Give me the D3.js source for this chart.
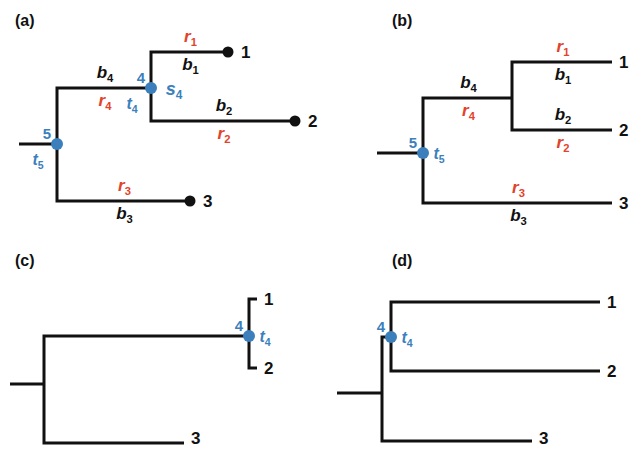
<!DOCTYPE html>
<html>
<head>
<meta charset="utf-8">
<script src="https://cdn.jsdelivr.net/npm/d3@7"></script>
<style>
  body { margin: 0; background: #fff; }
  text { font-family: "Liberation Sans", Arial, sans-serif; font-weight: bold; }
</style>
</head>
<body>
<div id="wrapper"></div>
<script>
// tree nodes: [id, parent, depth (x), row (y)] in each panel's own units
const nodesA = [["r", null, 19, 144], ["5", "r", 57, 144], ["4", "5", 151, 88],
                ["1", "4", 228, 52], ["2", "4", 295, 121], ["3", "5", 190, 201]];
const nodesB = [["r", null, 57, 153], ["5", "r", 103, 153], ["4", "5", 192, 98],
                ["1", "4", 292, 62], ["2", "4", 292, 130], ["3", "5", 292, 203]];
const nodesC = [["r", null, 10, 144], ["5", "r", 44, 144], ["4", "5", 249, 96],
                ["1", "4", 257, 59], ["2", "4", 257, 128], ["3", "5", 184, 203]];
const nodesD = [["r", null, 17, 153], ["5", "r", 62, 153], ["4", "5", 71, 97],
                ["1", "4", 280, 62], ["2", "4", 280, 131], ["3", "5", 212, 201]];

// branch labels: [child node, label above, label below]
const branchA = [["1", "r", "b"], ["4", "b", "r"], ["2", "b", "r"], ["3", "r", "b"]];
const branchB = [["1", "r", "b"], ["4", "b", "r"], ["2", "b", "r"], ["3", "r", "b"]];

// node annotations: [node, number shown, time label side, show s label]
const markA = [["5", "5", "below", false], ["4", "4", "below", true]];
const markB = [["5", "5", "right", false]];
const markC = [["4", "4", "right", false]];
const markD = [["4", "4", "right", false]];

const panels = [
  { name: "(a)", nodes: nodesA, branches: branchA, marks: markA, dots: true, ox: 0, oy: 0 },
  { name: "(b)", nodes: nodesB, branches: branchB, marks: markB, dots: false, ox: 320, oy: 0 },
  { name: "(c)", nodes: nodesC, branches: [], marks: markC, dots: false, ox: 0, oy: 240 },
  { name: "(d)", nodes: nodesD, branches: [], marks: markD, dots: false, ox: 320, oy: 240 }
];

const red = "#e2432b";
const blue = "#3b7fbd";
const ink = "#111";

const svg = d3.select("#wrapper").append("svg")
  .attr("width", 630).attr("height", 449);

function subLabel(g, x, y, letter, sub, color, size) {
  let t = g.append("text")
    .attr("x", x).attr("y", y)
    .attr("text-anchor", "middle")
    .attr("font-size", size)
    .attr("font-style", "italic")
    .attr("fill", color);
  t.append("tspan").text(letter);
  t.append("tspan").attr("dy", 4).attr("font-size", size * 0.66)
    .attr("font-style", "normal").text(sub);
}

panels.forEach(p => {
  let g = svg.append("g");
  let x = d3.scaleLinear().domain([0, 310]).range([p.ox, p.ox + 310]);
  let y = d3.scaleLinear().domain([0, 240]).range([p.oy, p.oy + 240]);

  g.append("text")
    .attr("x", p.ox + 15 + (p.ox ? 57 : 0)).attr("y", p.oy + 26)
    .attr("font-size", 16).attr("fill", ink)
    .text(p.name);

  let byId = {};
  p.nodes.forEach(d => byId[d[0]] = { id: d[0], parent: d[1], x: x(d[2]), y: y(d[3]) });
  let list = Object.values(byId);

  // elbow branches
  g.selectAll("path.branch")
    .data(list.filter(d => d.parent))
    .enter().append("path")
    .attr("class", "branch")
    .attr("d", d => {
      let par = byId[d.parent];
      return `M${par.x},${par.y}V${d.y}H${d.x}`;
    })
    .attr("fill", "none")
    .attr("stroke", ink)
    .attr("stroke-width", 3)
    .attr("stroke-linejoin", "miter");

  let leaves = list.filter(d => ["1", "2", "3"].includes(d.id));

  if (p.dots) {
    g.selectAll("circle.leaf")
      .data(leaves).enter().append("circle")
      .attr("cx", d => d.x).attr("cy", d => d.y).attr("r", 5.5)
      .attr("fill", ink);
  }

  g.selectAll("text.leaf")
    .data(leaves).enter().append("text")
    .attr("x", d => d.x + (p.dots ? 13 : 7))
    .attr("y", d => Math.min(d.y + 6, 444))
    .attr("font-size", 17).attr("fill", ink)
    .text(d => d.id);

  // branch labels
  p.branches.forEach(b => {
    let c = byId[b[0]], par = byId[c.parent];
    let mx = (par.x + c.x) / 2 + 1;
    let above = b[1], below = b[2];
    subLabel(g, mx, c.y - 10, above, b[0], above === "r" ? red : ink, 17);
    subLabel(g, mx, c.y + 18, below, b[0], below === "r" ? red : ink, 17);
  });

  // internal node marks
  p.marks.forEach(m => {
    let n = byId[m[0]];
    g.append("circle")
      .attr("cx", n.x).attr("cy", n.y).attr("r", 6)
      .attr("fill", blue);
    g.append("text")
      .attr("x", n.x - 10).attr("y", n.y - 5)
      .attr("text-anchor", "middle")
      .attr("font-size", 15).attr("fill", blue)
      .text(m[1]);
    if (m[2] === "below") {
      subLabel(g, n.x - 19, n.y + 21, "t", m[1], blue, 16);
    } else {
      subLabel(g, n.x + 16, n.y + 6, "t", m[1], blue, 16);
    }
    if (m[3]) {
      subLabel(g, n.x + 23, n.y + 7, "s", m[1], blue, 18);
    }
  });
});
</script>
</body>
</html>
